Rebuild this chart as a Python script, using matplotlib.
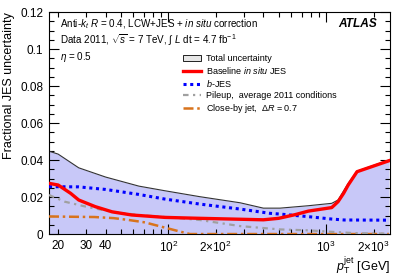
import math
import matplotlib
matplotlib.use("Agg")
import matplotlib.pyplot as plt
from matplotlib.ticker import LogLocator, FuncFormatter, MultipleLocator
from matplotlib.patches import Patch
from matplotlib.lines import Line2D

plt.rcParams['font.family'] = ['Liberation Sans', 'DejaVu Sans']
plt.rcParams['mathtext.fontset'] = 'custom'
plt.rcParams['mathtext.rm'] = 'Liberation Sans'
plt.rcParams['mathtext.it'] = 'Liberation Sans:italic'
plt.rcParams['mathtext.bf'] = 'Liberation Sans:bold'

# ---- data ----
total_pt = [17.5, 20, 27, 40, 65, 95, 158, 285, 400, 510, 770, 1085, 1190, 1380, 1570, 2500]
total = [0.0448, 0.0432, 0.0358, 0.0308, 0.0259, 0.0234, 0.0202, 0.0169, 0.0140, 0.0140,
         0.0153, 0.0166, 0.0184, 0.0274, 0.0340, 0.0400]

insitu_pt = [17.5, 20, 24, 27, 34.4, 44, 58.6, 95, 158, 285, 400, 500, 637, 772, 1085,
             1190, 1290, 1380, 1570, 2500]
insitu = [0.0274, 0.0265, 0.0220, 0.0184, 0.0148, 0.0120, 0.0103, 0.0090, 0.0085, 0.0080,
          0.0077, 0.0085, 0.0105, 0.0124, 0.0143, 0.0175, 0.0220, 0.0265, 0.0337, 0.0396]

bjes_pt = [17.5, 27, 40, 65, 95, 158, 285, 440, 510, 772, 1085, 1300, 2500]
bjes = [0.0256, 0.0255, 0.0241, 0.0214, 0.0189, 0.0162, 0.0135, 0.0112, 0.0108, 0.0094,
        0.0081, 0.0076, 0.0075]

pileup_pt = [17.5, 22, 30, 44, 65, 95, 158, 285, 510, 772, 1085, 1500, 2500]
pileup = [0.0211, 0.0175, 0.0148, 0.0120, 0.0103, 0.0092, 0.0076, 0.0043, 0.0025, 0.0020,
          0.0012, 0.0005, 0.0002]

closeby_pt = [17.5, 34, 45, 56, 71, 90, 119, 137, 2500]
closeby = [0.0095, 0.0092, 0.0086, 0.0076, 0.0063, 0.0040, 0.0013, 0.0, 0.0]

minor_labels = {20: "20", 30: "30", 40: "40", 200: r"2$\times$10$^{2}$", 2000: r"2$\times$10$^{3}$"}
legend_labels = ["Total uncertainty", r"Baseline $\mathit{in\ situ}$ JES", r"$\mathit{b}$-JES",
                 "Pileup,  average 2011 conditions", r"Close-by jet,  $\Delta\mathit{R}$ = 0.7"]

# ---- figure ----
fig = plt.figure(figsize=(4.07, 2.76), dpi=100)
ax = fig.add_axes([0.1204, 0.152, 0.8378, 0.8045])

band_color = '#c8c8f8'
ax.fill_between(total_pt, 0, total, color=band_color, lw=0, zorder=1)
ax.plot(total_pt, total, color='#333333', lw=0.8, zorder=2)
ax.plot(closeby_pt, closeby, color='#d8731c', lw=1.8, ls=(0, (4, 1.5, 1, 1.5)), zorder=3)
ax.plot(pileup_pt, pileup, color='#a0a0a0', lw=1.6, ls=(0, (2.5, 2, 1, 2)), zorder=3)
ax.plot(bjes_pt, bjes, color='#0000ff', lw=2.2, ls=(0, (1, 1.2)), zorder=4)
ax.plot(insitu_pt, insitu, color='#ff0000', lw=2.4, zorder=5)

ax.set_xscale('log')
ax.set_xlim(17.5, 2540)
ax.set_ylim(0, 0.12)

ax.xaxis.set_major_locator(LogLocator(base=10, subs=(1.0,)))
ax.xaxis.set_major_formatter(FuncFormatter(lambda v, p: r"10$^{%d}$" % round(math.log10(v))))
ax.xaxis.set_minor_locator(LogLocator(base=10, subs=[2, 3, 4, 5, 6, 7, 8, 9], numticks=20))
def minor_fmt(v, p):
    for k, s in minor_labels.items():
        if abs(v - k) / k < 1e-6:
            return s
    return ""
ax.xaxis.set_minor_formatter(FuncFormatter(minor_fmt))

ax.yaxis.set_major_locator(MultipleLocator(0.02))
ax.yaxis.set_minor_locator(MultipleLocator(0.005))
ax.yaxis.set_major_formatter(FuncFormatter(lambda v, p: "0" if abs(v) < 1e-9 else ("%g" % v)))

ax.tick_params(which='both', direction='in', top=True, right=True, labelsize=8.5, pad=4)
ax.tick_params(which='major', length=7, width=0.8)
ax.tick_params(which='minor', length=3.5, width=0.8)
ax.tick_params(axis='x', which='minor', labelsize=8.5)

ax.set_ylabel("Fractional JES uncertainty", fontsize=9, loc='top')
ax.set_xlabel(r"$p_{\mathrm{T}}^{\mathrm{jet}}$ [GeV]", fontsize=9)
ax.xaxis.set_label_coords(1.0, -0.095)
ax.xaxis.label.set_horizontalalignment('right')

ax.text(0.032, 0.946, r"Anti-$k_{t}$ $R$ = 0.4, LCW+JES + $in\ situ$ correction",
        transform=ax.transAxes, fontsize=7.1, va='center', ha='left')
ax.text(0.032, 0.874, r"Data 2011, $\sqrt{s}$ = 7 TeV, $\int$ $L$ dt = 4.7 fb$^{-1}$",
        transform=ax.transAxes, fontsize=7.1, va='center', ha='left')
ax.text(0.032, 0.797, r"$\eta$ = 0.5", transform=ax.transAxes, fontsize=7.1, va='center', ha='left')
ax.text(0.962, 0.946, "ATLAS", transform=ax.transAxes, fontsize=8.6, fontweight='bold',
        fontstyle='italic', va='center', ha='right')

handles = [Patch(facecolor='#e6e6e6', edgecolor='black', lw=0.6),
           Line2D([], [], color='#ff0000', lw=2.4),
           Line2D([], [], color='#0000ff', lw=2.2, ls=(0, (1, 1.2))),
           Line2D([], [], color='#a0a0a0', lw=1.6, ls=(0, (2.5, 2, 1, 2))),
           Line2D([], [], color='#d8731c', lw=1.8, ls=(0, (4, 1.5, 1, 1.5)))]
ax.legend(handles, legend_labels, loc='upper left', bbox_to_anchor=(0.393, 0.81),
          frameon=False, fontsize=6.5, handlelength=2.0, handletextpad=0.5,
          labelspacing=0.22, borderpad=0, borderaxespad=0)

fig.savefig("out.png", dpi=100)
